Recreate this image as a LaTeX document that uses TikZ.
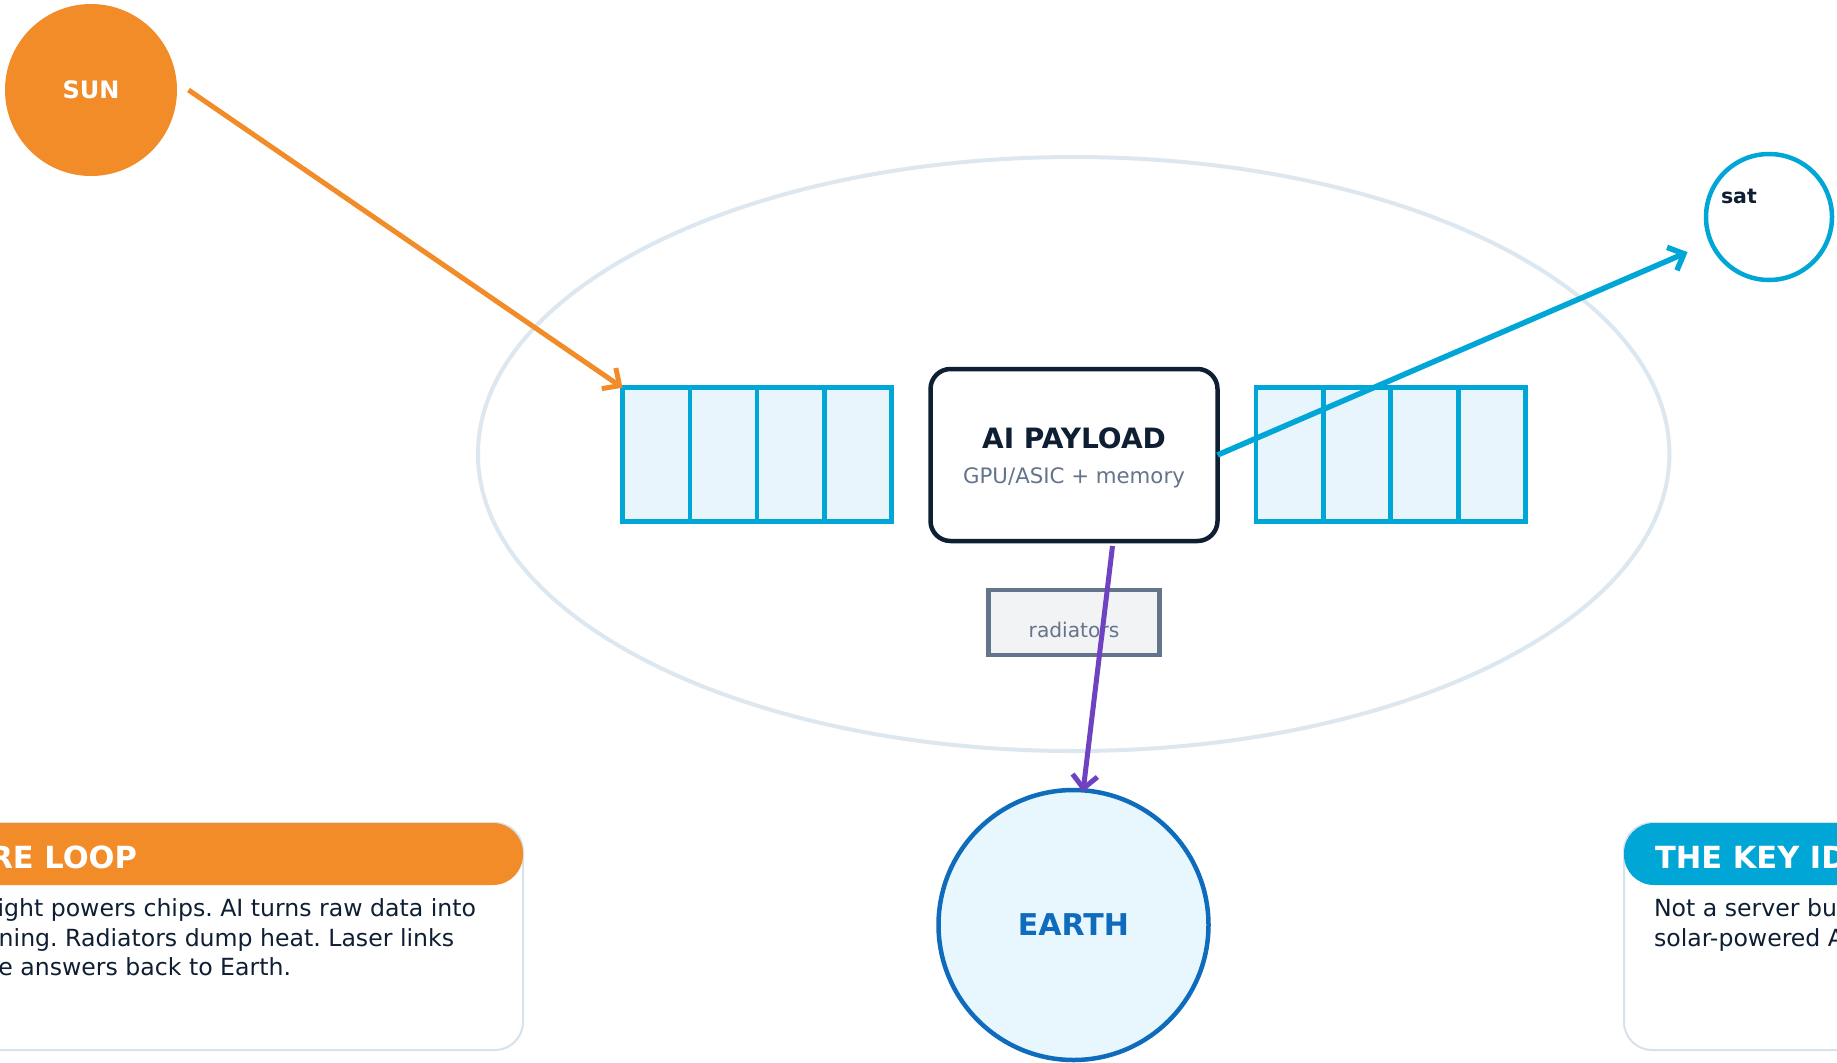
\documentclass[tikz,border=0pt]{standalone}
\usepackage{fontspec}
\setmainfont{DejaVu Sans}
\usetikzlibrary{arrows.meta}
\definecolor{cSun}{HTML}{F28C28}
\definecolor{cSky}{HTML}{00A6D6}
\definecolor{cPanel}{HTML}{E8F5FD}
\definecolor{cNavy}{HTML}{0F1F33}
\definecolor{cSlate}{HTML}{64748B}
\definecolor{cRad}{HTML}{F1F3F5}
\definecolor{cPurple}{HTML}{6F42C1}
\definecolor{cEarth}{HTML}{0F6CBD}
\definecolor{cEarthFill}{HTML}{E8F7FD}
\definecolor{cOrbit}{HTML}{DCE7F0}
\definecolor{cCard}{HTML}{D6E2EC}
\newcommand\setfs[1]{\fontsize{#1}{#1}\selectfont}
\frenchspacing
\begin{document}
\begin{tikzpicture}[x=1pt,y=-1pt,
  cell/.style={draw=cSky, fill=cPanel, line width=4.5pt, minimum width=67.25pt,
    minimum height=134pt, inner sep=0pt, outer sep=0pt},
  link/.style={line width=5pt, -{Straight Barb[length=13pt,width=25pt]}},
  txt/.style={inner sep=0pt, outer sep=0pt},
  card/.style={draw=cCard, line width=2pt, fill=white, rounded corners=28pt,
    minimum width=923pt, minimum height=227pt, inner sep=0pt, outer sep=0pt},
  cardhead/.style={rounded corners=30pt, minimum width=923pt, minimum height=62pt,
    inner sep=0pt, outer sep=0pt},
  headtxt/.style={txt, text=white, font=\setfs{30.5}\bfseries},
  bodytxt/.style={txt, text=cNavy, font=\setfs{23.6}\frenchspacing}]
\useasboundingbox (0,0) rectangle (1837,1063);
\clip (0,0) rectangle (1837,1063);
\fill[white] (0,0) rectangle (1837,1063);

% orbit
\draw[cOrbit, line width=4pt] (1073.7,454) ellipse [x radius=595.7, y radius=297];

% sun
\node[circle, fill=cSun, minimum size=172pt, inner sep=0pt, text=white,
  font=\setfs{24}\bfseries] (sun) at (91,90) {SUN};
\coordinate (sunray) at (188.5,90);

% solar panels
\foreach \i in {1,...,4} {
  \node[cell] (lp\i) at ({622.5+33.625+67.25*(\i-1)},454.7) {};
  \node[cell] (rp\i) at ({1256+33.7+67.4*(\i-1)},454.7) {};
}

% payload
\node[draw=cNavy, line width=4.5pt, rounded corners=20pt, fill=white,
  minimum width=287pt, minimum height=172pt, inner sep=0pt, outer sep=0pt]
  (pay) at (1074,455) {};
\node[txt, anchor=base, text=cNavy, font=\setfs{28}\bfseries] (paytitle) at (1074,448) {AI PAYLOAD};
\node[txt, anchor=base, text=cSlate, font=\setfs{21.3}] (paysub) at (1074,483) {GPU/ASIC + memory};

% radiators
\node[draw=cSlate, fill=cRad, line width=4.5pt, minimum width=171.4pt,
  minimum height=65pt, inner sep=0pt, outer sep=0pt] (rad) at (1074,622.5) {};
\node[txt, anchor=base, text=cSlate, font=\setfs{20.2}] (radlbl) at (1074,637.3) {radiators};

% earth
\node[circle, draw=cEarth, fill=cEarthFill, line width=4.5pt, minimum size=270pt,
  inner sep=0pt, outer sep=0pt, text=cEarth, font=\setfs{30}\bfseries] (earth) at (1073.5,925) {EARTH};

% sat
\node[circle, draw=cSky, line width=4.5pt, minimum size=126pt, inner sep=0pt,
  outer sep=0pt] (sat) at (1769,217) {};
\node[txt, anchor=base west, text=cNavy, font=\setfs{20.5}\bfseries] (satlbl) at (1721,203.3) {sat};

% cards
\node[card] (loopcard) at (61.5,936.5) {};
\node[cardhead, fill=cSun] (loophead) at (61.5,854) {};
\node[headtxt, anchor=base east] (looptitle) at (137,868.5) {RE LOOP};
\node[bodytxt, anchor=base east] (loop1) at (476,916.5) {ight powers chips. AI turns raw data into};
\node[bodytxt, anchor=base east] (loop2) at (454,946) {ning. Radiators dump heat. Laser links};
\node[bodytxt, anchor=base east] (loop3) at (291,975.5) {e answers back to Earth.};

\node[card] (keycard) at (2085.5,936.5) {};
\node[cardhead, fill=cSky] (keyhead) at (2085.5,854) {};
\node[headtxt, anchor=base west] (keytitle) at (1655,868.5) {THE KEY ID};
\node[bodytxt, anchor=base west] (key1) at (1654,916.5) {Not a server bu};
\node[bodytxt, anchor=base west] (key2) at (1654,946) {solar-powered A};

% connectors
\draw[link, cSun] (sunray) -- (lp1.north west);
\draw[link, cSky, line width=5.5pt, shorten >=25.7pt] (pay.east) -- (sat);
\coordinate (heat) at ([xshift=38.5pt,yshift=-5pt]pay.south);
\draw[link, cPurple] (heat) -- ([xshift=9.5pt,yshift=-2pt]earth.north);
\end{tikzpicture}
\end{document}
